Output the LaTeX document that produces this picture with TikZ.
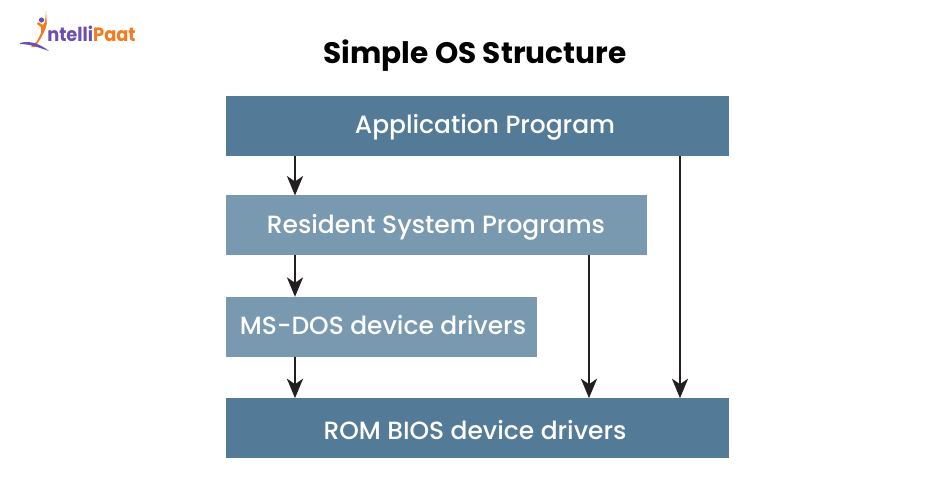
\documentclass[tikz,border=0pt]{standalone}
\usepackage{fontspec}
\setmainfont{Poppins}
\newfontfamily\boxfont{Poppins Medium}
\usetikzlibrary{arrows.meta,positioning}
\definecolor{dark box}{HTML}{537B98}
\definecolor{light box}{HTML}{7899AF}
\definecolor{arrow ink}{HTML}{231F20}
\definecolor{logo purple}{HTML}{6A4FB0}
\definecolor{logo orange}{HTML}{F47A1F}
\begin{document}
\begin{tikzpicture}[x=0.75pt,y=-0.75pt,
		layer box/.style={rectangle,anchor=north west,inner sep=0pt,outer sep=0pt,minimum height=44.8pt},
		main box/.style={layer box,fill=dark box},
		sub box/.style={layer box,fill=light box},
		layer text/.style={text=white,inner sep=0pt,font=\boxfont\fontsize{18.7}{22}\selectfont},
		call/.style={-{Stealth[length=14.5pt,width=12pt,inset=4pt]},draw=arrow ink,line width=1.7pt}]
		\useasboundingbox (0,0) rectangle (950,501);
		\fill[white] (0,0) rectangle (950,501);

		% logo
		\node[anchor=base west,inner sep=0pt,font=\fontsize{14.5}{18}\selectfont\bfseries] (logo) at (47,41) {\scalebox{.92}[1]{\textcolor{logo purple}{ntelli}\textcolor{logo orange}{Paat}}};
		\fill[logo purple] (41.5,20) circle (2.6);
		\fill[logo orange] (46,11) -- (46.8,24) -- (45,30) -- (41,38) -- (35,47) -- (31,47) -- (37,41) -- (41,33) -- (41,27) -- (37,24) -- (38,22) -- (43,25) -- (45,22) -- cycle;
		\fill[logo purple] (20,43) .. controls (30,40) and (40,44) .. (49,51) .. controls (40,48) and (30,44) .. (20,44) -- cycle;

		\node[font=\fontsize{22.2}{26}\selectfont\bfseries,inner sep=0pt] (title) at (475,56) {Simple OS Structure};

		\node[main box,minimum width=377.25pt] (app) at (226,96) {};
		\node[sub box,minimum width=315.75pt,below right=29.8pt and 0pt of app.south west] (res) {};
		\node[sub box,minimum width=233.25pt,below right=31.2pt and 0pt of res.south west] (msdos) {};
		\node[main box,minimum width=377.25pt,below right=31.2pt and 0pt of msdos.south west] (rom) {};

		\node[layer text] (app label) at (485,127.5) {Application Program};
		\node[layer text] (res label) at (436,227.5) {Resident System Programs};
		\node[layer text] (msdos label) at (383,325) {MS-DOS device drivers};
		\node[layer text] (rom label) at (475,430) {ROM BIOS device drivers};

		\coordinate (near) at (295,0);
		\coordinate (mid) at (589,0);
		\coordinate (far) at (680,0);

		\draw[call] (app.south -| near) -- (res.north -| near);
		\draw[call] (res.south -| near) -- (msdos.north -| near);
		\draw[call] (msdos.south -| near) -- (rom.north -| near);
		\draw[call] (res.south -| mid) -- (rom.north -| mid);
		\draw[call] (app.south -| far) -- (rom.north -| far);
\end{tikzpicture}
\end{document}
